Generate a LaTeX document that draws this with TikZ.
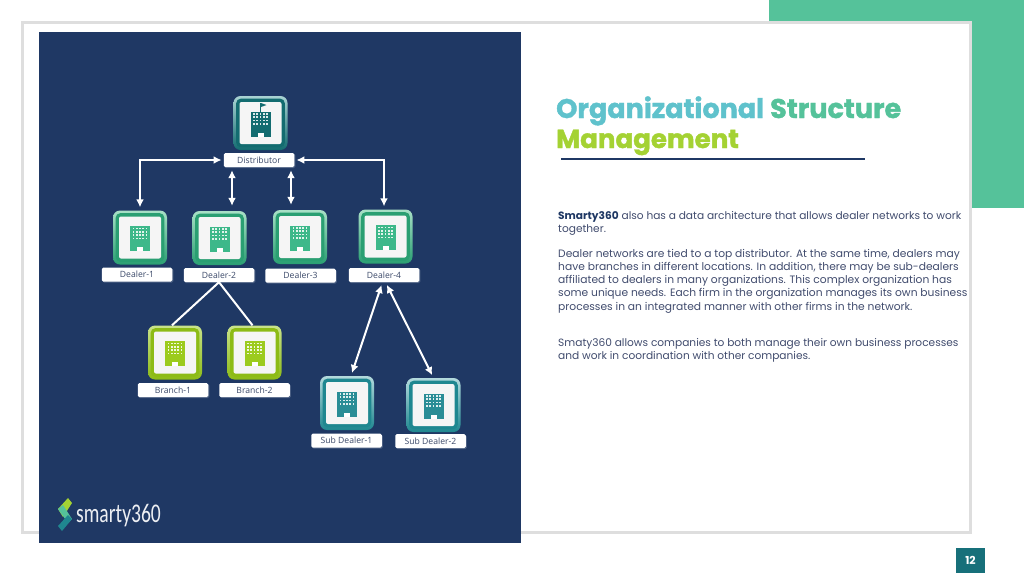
\documentclass[tikz,border=0pt]{standalone}
\usepackage{fontspec}
\setmainfont{Open Sans}
\newfontfamily\titlefont[BoldFeatures={FakeBold=1.4}]{Poppins}
\newfontfamily\bodyfont{Poppins}
\newfontfamily\logofont{Carlito}
\usetikzlibrary{arrows.meta,calc,shadows}
\definecolor{navy}{HTML}{1F3864}
\definecolor{mint}{HTML}{55C29A}
\definecolor{framegray}{HTML}{DEDEDE}
\definecolor{tealA}{HTML}{136C70}
\definecolor{tealB}{HTML}{A9D3D3}
\definecolor{greenA}{HTML}{2A9F72}
\definecolor{greenB}{HTML}{A8E0C6}
\definecolor{greenC}{HTML}{3DB88A}
\definecolor{limeA}{HTML}{8DBB16}
\definecolor{limeB}{HTML}{C9E38A}
\definecolor{limeC}{HTML}{9CCB1E}
\definecolor{subA}{HTML}{1F8790}
\definecolor{subB}{HTML}{B3DADC}
\definecolor{subC}{HTML}{2A8D96}
\definecolor{titleblue}{HTML}{5FC2CC}
\definecolor{titlelime}{HTML}{A4D233}
\definecolor{bodytext}{HTML}{414C6E}
\definecolor{pagebox}{HTML}{17707A}
\definecolor{labeltext}{HTML}{3A4868}
\tikzset{
  x=1pt,y=-1pt,
  tile/.style={draw=none,rounded corners=7pt,minimum width=54pt,minimum height=54pt,inner sep=0pt},
  tag/.style={fill=white,rounded corners=1.5pt,minimum width=70.5pt,minimum height=14pt,inner sep=0pt,
    text=labeltext,font=\fontsize{8.6}{10}\selectfont,
    drop shadow={shadow xshift=1pt,shadow yshift=-1pt,opacity=.2,fill=white}},
  link/.style={white,line width=2pt},
  both/.style={link,{Latex[length=8pt,width=8pt]}-{Latex[length=8pt,width=8pt]}},
  bodyblock/.style={anchor=north west,align=left,inner sep=0pt,text=bodytext,
    font=\bodyfont\fontsize{10.7}{13.2}\selectfont},
  titleline/.style={anchor=base west,inner sep=0pt,font=\titlefont\bfseries\fontsize{27}{30}\selectfont},
}
% icon tile: name, x, y, dark, light, building colour
\newcommand{\bldgicon}[6]{%
  \node[tile,top color=#5,bottom color=#4] (#1) at (#2,#3) {};
  \fill[#4,rounded corners=4.5pt] ($(#1.center)+(-24.3,-24.3)$) rectangle ($(#1.center)+(24.3,24.3)$);
  \fill[white!96!black,rounded corners=2pt] ($(#1.center)+(-21,-21)$) rectangle ($(#1.center)+(21,21)$);
  \fill[#6] ($(#1.center)+(-10,-11.5)$) rectangle ($(#1.center)+(10,13.5)$);
  \foreach \cx in {-6.5,-3.25,0,3.25,6.5}{\foreach \cy in {-9,-5.7,-2.4,0.9}{
    \fill[white!85!#6] ($(#1.center)+(\cx-.85,\cy-.85)$) rectangle ($(#1.center)+(\cx+.85,\cy+.85)$);}}
  \fill[white] ($(#1.center)+(-3,9.5)$) rectangle ($(#1.center)+(3,13.5)$);
}
\begin{document}
\begin{tikzpicture}
\useasboundingbox (0,0) rectangle (1024,576);
\fill[white] (0,0) rectangle (1024,576);
\fill[mint] (769,0) rectangle (1024,208);
\draw[framegray,line width=3pt,fill=white] (22,22) rectangle (970,532);
\fill[navy] (39,32) rectangle (521,543);

% title
\node[titleline,text=titleblue] (t1) at (556,118) {Organizational};
\node[titleline,text=mint] (t2) at (770,118) {Structure};
\node[titleline,text=titlelime,font=\titlefont\bfseries\fontsize{26.1}{30}\selectfont] (t3) at (556,148) {Management};
\draw[navy,line width=1.5pt] (561,159) -- (865,159);

% body
\node[bodyblock,font=\bodyfont\fontsize{10.6}{13.2}\selectfont] (p1) at (558,211) {\textcolor{navy}{\textbf{Smarty360}} also has a data architecture that allows dealer networks to work\\together.};
\node[bodyblock] (p2) at (558,249) {Dealer networks are tied to a top distributor. At the same time, dealers may\\have branches in different locations. In addition, there may be sub-dealers\\affiliated to dealers in many organizations. This complex organization has\\some unique needs. Each firm in the organization manages its own business\\processes in an integrated manner with other firms in the network.};
\node[bodyblock,font=\bodyfont\fontsize{10.6}{13.2}\selectfont] (p3) at (558,338) {Smaty360 allows companies to both manage their own business processes\\and work in coordination with other companies.};

% tiles
\bldgicon{dist}{260.5}{123}{tealA}{tealB}{tealA}
\fill[tealA] ($(dist.center)+(-0.5,-20)$) rectangle ($(dist.center)+(0.5,-11)$);
\fill[tealA] ($(dist.center)+(0.5,-20)$) -- ($(dist.center)+(6,-18)$) -- ($(dist.center)+(0.5,-16)$) -- cycle;
\bldgicon{d1}{140}{237.5}{greenA}{greenB}{greenC}
\bldgicon{d2}{219.5}{238}{greenA}{greenB}{greenC}
\bldgicon{d3}{300}{237}{greenA}{greenB}{greenC}
\bldgicon{d4}{385.5}{236.5}{greenA}{greenB}{greenC}
\bldgicon{b1}{175}{352.5}{limeA}{limeB}{limeC}
\bldgicon{b2}{254.5}{352.5}{limeA}{limeB}{limeC}
\bldgicon{s1}{347}{403}{subA}{subB}{subC}
\bldgicon{s2}{433.5}{405}{subA}{subB}{subC}

% labels
\node[tag] (ldist) at (259,160) {Distributor};
\node[tag] (ld1) at (137,274.5) {Dealer-1};
\node[tag] (ld2) at (219,275) {Dealer-2};
\node[tag] (ld3) at (300.5,275.5) {Dealer-3};
\node[tag] (ld4) at (384,275) {Dealer-4};
\node[tag] (lb1) at (173,390) {Branch-1};
\node[tag] (lb2) at (254.5,390) {Branch-2};
\node[tag] (ls1) at (346.5,440.5) {Sub Dealer-1};
\node[tag] (ls2) at (430.5,441) {Sub Dealer-2};

% connectors
\draw[both,shorten <=2pt,shorten >=3pt] (ldist.west) -| (d1.north);
\draw[both,shorten <=2pt,shorten >=3pt] (ldist.east) -| ([xshift=-1.5pt]d4.north);
\draw[both,shorten <=3pt,shorten >=5pt] ([xshift=-27pt]ldist.south) -- ([xshift=12.5pt]d2.north);
\draw[both,shorten <=3pt,shorten >=5pt] ([xshift=32pt]ldist.south) -- ([xshift=-9pt]d3.north);
\draw[link] (ld2.south) -- ([xshift=-3pt]b1.north);
\draw[link] (ld2.south) -- ([xshift=-2pt]b2.north);
\draw[both,shorten <=3pt,shorten >=3pt] ([xshift=-1.5pt]ld4.south) -- ([xshift=4pt]s1.north);
\draw[both,shorten <=3pt,shorten >=3pt] ([xshift=1.5pt]ld4.south) -- ([xshift=0pt]s2.north);

% logo
\fill[titlelime] (68,498) -- (72,503) -- (63,517) -- (58,509) -- cycle;
\fill[mint] (58,509) -- (63,505) -- (72,519) -- (68,523) -- cycle;
\fill[subA] (72,519) -- (68,515) -- (58,526) -- (62,531) -- cycle;
\node[anchor=base west,inner sep=0pt,text=white!92!navy,font=\logofont\fontsize{27}{30}\selectfont] (logo) at (76,522) {\scalebox{0.725}[1]{smarty360}};

% page number
\node[fill=pagebox,text=white,minimum width=29pt,minimum height=25pt,inner sep=0pt,font=\bodyfont\bfseries\fontsize{11}{12}\selectfont] (pg) at (970.5,560.5) {12};
\end{tikzpicture}
\end{document}
